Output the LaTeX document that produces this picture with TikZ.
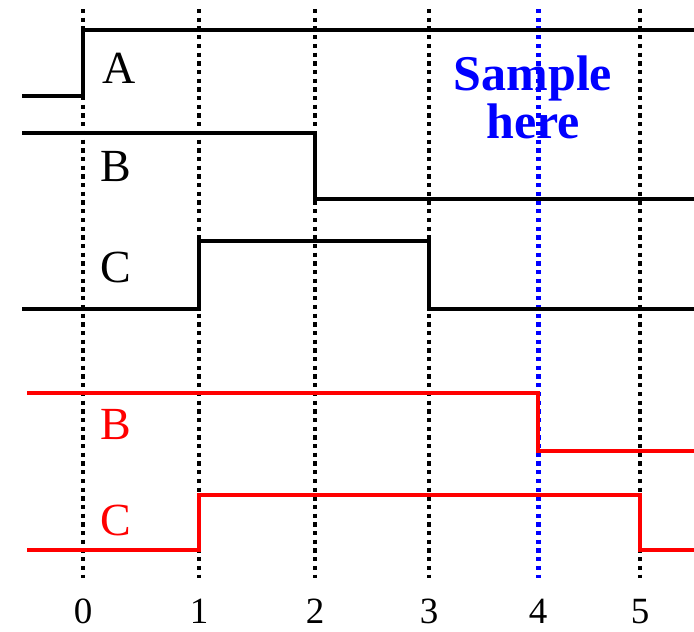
\documentclass[tikz,border=0pt]{standalone}
\usepackage{fontspec}
\setmainfont{Liberation Serif}
\begin{document}
\begin{tikzpicture}[x=1pt,y=-1pt,
  wave/.style={line width=4.6pt},
  tick/.style={line width=4.4pt,dash pattern=on 4.3pt off 4.4pt},
  lbl/.style={font=\fontsize{46}{46}\selectfont},
  num/.style={font=\fontsize{37}{37}\selectfont,inner sep=0pt,anchor=base}]
\useasboundingbox (0,0) rectangle (694,632);
% time marks
\foreach \x/\t in {83/0,199/1,315/2,429/3,640/5}{
  \draw[tick] (\x,9) -- (\x,578);
  \node[num] (t\t) at (\x,623) {\t};
}
\draw[tick,blue,line width=5pt] (538,9) -- (538,578);
\node[num] (t4) at (538,623) {4};
\node[font=\fontsize{50}{48}\selectfont\bfseries,text=blue,align=center] (sample) at (533,97) {Sample\\here};
% inputs
\draw[wave] (22,96) -- (83,96) -- (83,30) -- (694,30);
\draw[wave] (22,133) -- (315,133) -- (315,199) -- (694,199);
\draw[wave] (22,309) -- (199,309) -- (199,241) -- (429,241) -- (429,309) -- (694,309);
\node[lbl] (la) at (119,68) {A};
\node[lbl] (lb) at (116,167) {B};
\node[lbl] (lc) at (116,267) {C};
% outputs
\draw[wave,red] (27,393) -- (538,393) -- (538,451) -- (694,451);
\draw[wave,red] (27,550) -- (199,550) -- (199,495) -- (640,495) -- (640,550) -- (694,550);
\node[lbl,red] (rb) at (116,425) {B};
\node[lbl,red] (rc) at (116,520) {C};
\end{tikzpicture}
\end{document}
